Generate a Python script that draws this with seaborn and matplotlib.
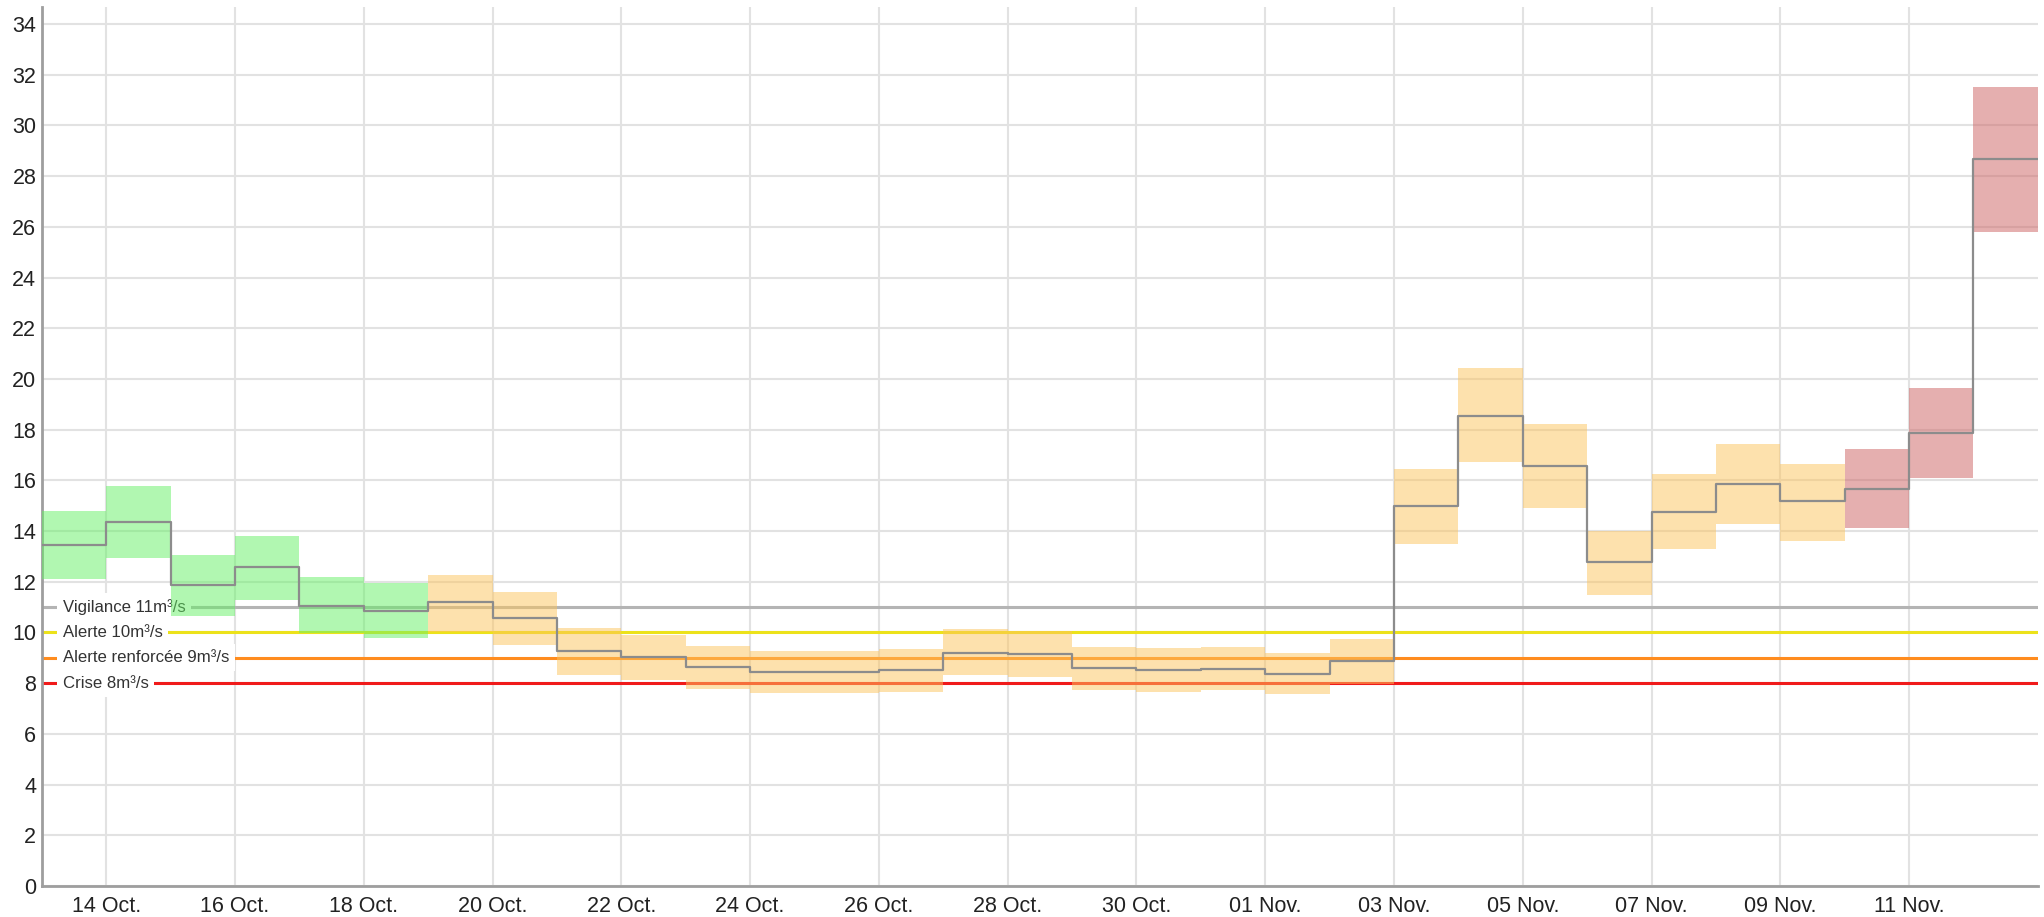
""" Débit journalier prévu avec seuils de restriction """

import numpy as np
import pandas as pd
import matplotlib
matplotlib.use("Agg")
import matplotlib.pyplot as plt
import matplotlib.dates as mdates
import matplotlib.transforms as mtransforms
import seaborn as sns

# Days (one box per day)
jours = pd.date_range("2023-10-13", periods=31, freq="D")

# Median flow of each day (m3/s)
debit = [13.46, 14.36, 11.86, 12.57, 11.06, 10.85, 11.19, 10.56, 9.27, 9.03,
         8.63, 8.44, 8.44, 8.52, 9.19, 9.16, 8.59, 8.52, 8.56, 8.36,
         8.88, 14.99, 18.55, 16.57, 12.78, 14.77, 15.87, 15.18, 15.66, 17.88,
         28.67]
# Uncertainty range of each day
debit_bas = [12.11, 12.94, 10.66, 11.28, 9.97, 9.77, 10.02, 9.51, 8.32, 8.13,
             7.77, 7.63, 7.63, 7.67, 8.32, 8.26, 7.73, 7.64, 7.73, 7.56,
             7.98, 13.48, 16.71, 14.90, 11.48, 13.28, 14.28, 13.62, 14.11, 16.09,
             25.79]
debit_haut = [14.79, 15.79, 13.04, 13.82, 12.18, 11.95, 12.27, 11.61, 10.16, 9.90,
              9.48, 9.28, 9.28, 9.35, 10.14, 10.06, 9.44, 9.38, 9.42, 9.20,
              9.74, 16.45, 20.42, 18.22, 14.02, 16.24, 17.45, 16.66, 17.23, 19.63,
              31.53]
# Colour class of each day
niveau = ["vert"] * 6 + ["orange"] * 22 + ["rouge"] * 3

# Threshold lines
seuils_noms = ["Vigilance 11m³/s", "Alerte 10m³/s", "Alerte renforcée 9m³/s", "Crise 8m³/s"]
seuils_valeurs = [11, 10, 9, 8]
seuils_couleurs = ["#b4b4b4", "#ece21a", "#ff8c1e", "#f01a1a"]

couleurs_niveau = {"vert": "#64f064", "orange": "#fcc45c", "rouge": "#cd6161"}

sns.set_theme(style="whitegrid")
plt.rcParams["font.family"] = ["Liberation Sans", "DejaVu Sans"]

fig = plt.figure(figsize=(20.44, 9.17), dpi=100)
ax = fig.add_axes([0.0205, 0.0338, 0.9765, 0.9586])

# Threshold lines + their labels
lbl_trans = mtransforms.blended_transform_factory(ax.transAxes, ax.transData)
for nom, val, col in zip(seuils_noms, seuils_valeurs, seuils_couleurs):
    ax.axhline(val, color=col, lw=2.2, zorder=2)
    ax.annotate(nom, xy=(0, val), xycoords=lbl_trans, xytext=(15, 0),
                textcoords="offset points", ha="left", va="center",
                fontsize=12.1, color="#333333", zorder=2.5,
                bbox=dict(boxstyle="square,pad=0.35", fc="white", ec="none"))

# Daily boxes
df = pd.DataFrame({"jour": jours, "bas": debit_bas, "haut": debit_haut, "niveau": niveau})
ax.bar(df["jour"], df["haut"] - df["bas"], bottom=df["bas"], width=1, align="edge",
       color=[couleurs_niveau[n] for n in df["niveau"]], alpha=0.5, lw=0, zorder=3)

# Median step line (last value held until end of the last day)
ligne = pd.DataFrame({"jour": list(jours) + [jours[-1] + pd.Timedelta(days=1)],
                      "debit": debit + [debit[-1]]})
sns.lineplot(data=ligne, x="jour", y="debit", drawstyle="steps-post",
             color="#8c8c8c", lw=1.6, ax=ax, zorder=4)

ax.set_xlim(jours[0], jours[-1] + pd.Timedelta(days=1))
ax.set_ylim(0, 34.67)
ax.set_yticks(np.arange(0, 35, 2))
ax.xaxis.set_major_locator(mdates.DayLocator(bymonthday=[14, 16, 18, 20, 22, 24, 26, 28, 30, 1, 3, 5, 7, 9, 11]))
ax.xaxis.set_major_formatter(mdates.DateFormatter("%d %b."))
ax.set_xlabel("")
ax.set_ylabel("")

ax.grid(True, color="#e2e2e2", lw=1.5)
ax.tick_params(axis="both", length=0, labelsize=15.5, labelcolor="#222222")
ax.tick_params(axis="x", pad=7)
ax.tick_params(axis="y", pad=4)
for s in ["top", "right"]:
    ax.spines[s].set_visible(False)
for s in ["left", "bottom"]:
    ax.spines[s].set_color("#9e9e9e")
    ax.spines[s].set_linewidth(2)

fig.savefig("out.png", dpi=100)
